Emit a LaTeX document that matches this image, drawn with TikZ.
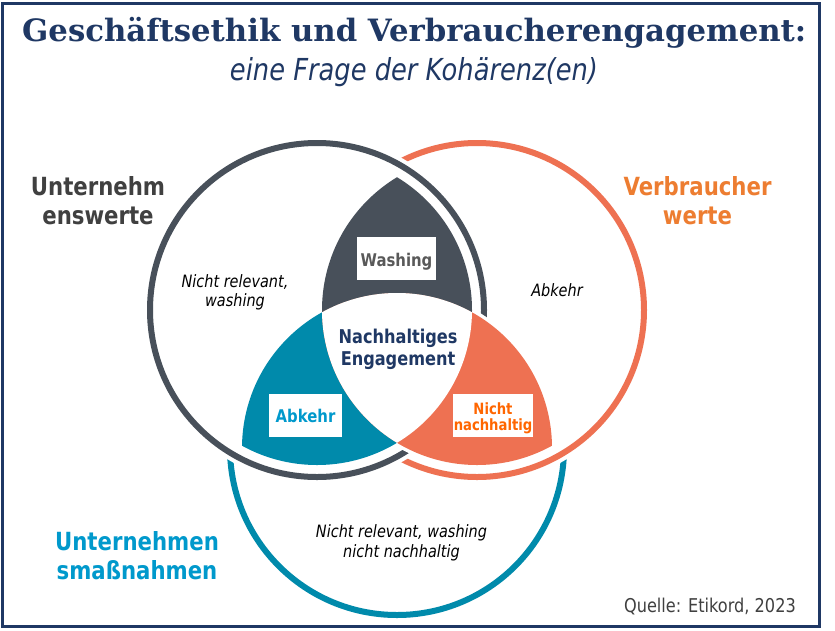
\documentclass[tikz,border=0pt]{standalone}
\usepackage{fontspec}
\usepackage{graphicx}
\newfontfamily\labfont[FakeStretch=0.85]{DejaVu Sans}
\newfontfamily\titlefont{DejaVu Serif}
\definecolor{navy}{HTML}{1F3864}
\definecolor{ringgray}{HTML}{48505A}
\definecolor{ringorange}{HTML}{EE7152}
\definecolor{ringteal}{HTML}{008AAB}
\definecolor{labgray}{HTML}{404040}
\definecolor{laborange}{HTML}{ED7D31}
\definecolor{labteal}{HTML}{0099CC}
\definecolor{washgray}{HTML}{595959}
\definecolor{nnorange}{HTML}{FF6600}
\begin{document}
\begin{tikzpicture}[x=1pt,y=-1pt,
  biglab/.style={font=\labfont\bfseries\fontsize{25}{29}\selectfont, anchor=base, inner sep=0},
  midlab/.style={font=\labfont\bfseries\fontsize{19}{22}\selectfont, anchor=base, inner sep=0, text=navy},
  boxlab/.style={font=\labfont\bfseries\fontsize{17.5}{20}\selectfont, anchor=base, inner sep=0},
  smlab/.style={font=\labfont\bfseries\fontsize{15.5}{18}\selectfont, anchor=base, inner sep=0, text=nnorange},
  itlab/.style={font=\labfont\itshape\fontsize{17}{20}\selectfont, anchor=base, inner sep=0, text=black},
  whitebox/.style={fill=white, draw=none}
]
\useasboundingbox (0,0) rectangle (835,630);
\fill[white] (0,0) rectangle (835,630);
\draw[navy, line width=3] (2.5,3.5) rectangle (819.5,626.5);

% title
\node[anchor=base west, inner sep=0, text=navy] (title) at (22,41)
  {\resizebox{784pt}{!}{\titlefont\bfseries Geschäftsethik und Verbraucherengagement:}};
\node[anchor=base, inner sep=0, text=navy] (subtitle) at (414,80)
  {\resizebox{368pt}{!}{\labfont\itshape\fontsize{20}{24}\selectfont eine Frage der Kohärenz(en)}};

% centres
\coordinate (L) at (317,310);
\coordinate (R) at (477,310);
\coordinate (C) at (397,448);

% rings
\draw[ringteal, line width=6] (C) circle (167);
\fill[white] (R) circle (174);
\draw[ringorange, line width=6] (R) circle (167);
\fill[white] (L) circle (174);
\draw[ringgray, line width=6] (L) circle (167);

% halo of the orange petal
\begin{scope}\clip (R) circle (155); \draw[white, line width=7] (C) circle (155);\end{scope}
\begin{scope}\clip (C) circle (155); \draw[white, line width=7] (R) circle (155);\end{scope}

% petals
\begin{scope}\clip (L) circle (155); \fill[ringgray] (R) circle (155);\end{scope}
\begin{scope}\clip (L) circle (155); \fill[ringteal] (C) circle (155);\end{scope}
\begin{scope}\clip (R) circle (155); \fill[ringorange] (C) circle (155);\end{scope}
\begin{scope}\clip (L) circle (155); \clip (R) circle (155); \fill[white] (C) circle (155);\end{scope}

% boxes
\fill[whitebox] (357,237) rectangle (436,280);
\fill[whitebox] (269,394) rectangle (342,437);
\fill[whitebox] (453,394) rectangle (533,437);
\node[boxlab, text=washgray] (wash) at (396.5,266) {Washing};
\node[boxlab, text=labteal] (abk) at (305.5,422) {Abkehr};
\node[smlab] (nn1) at (493,414.5) {Nicht};
\node[smlab] (nn2) at (493,430) {nachhaltig};

% centre label
\node[midlab] (ne1) at (398,343) {Nachhaltiges};
\node[midlab] (ne2) at (398,365) {Engagement};

% outer labels
\node[biglab, text=labgray] (uw1) at (98,195) {Unternehm};
\node[biglab, text=labgray] (uw2) at (98,224) {enswerte};
\node[biglab, text=laborange] (vw1) at (697.5,195) {Verbraucher};
\node[biglab, text=laborange] (vw2) at (697.5,224) {werte};
\node[biglab, text=labteal] (um1) at (137,550) {Unternehmen};
\node[biglab, text=labteal] (um2) at (137,579) {smaßnahmen};

% italic notes
\node[itlab] (nr1) at (235,287) {Nicht relevant,};
\node[itlab] (nr2) at (235,306) {washing};
\node[itlab] (ab) at (557,296) {Abkehr};
\node[itlab] (nw1) at (401.5,537) {Nicht relevant, washing};
\node[itlab] (nw2) at (401.5,557) {nicht nachhaltig};

% source
\node[anchor=base east, inner sep=0, text=labgray, font=\labfont\fontsize{19}{22}\selectfont] (src) at (796,612) {Quelle: Etikord, 2023};
\end{tikzpicture}
\end{document}
